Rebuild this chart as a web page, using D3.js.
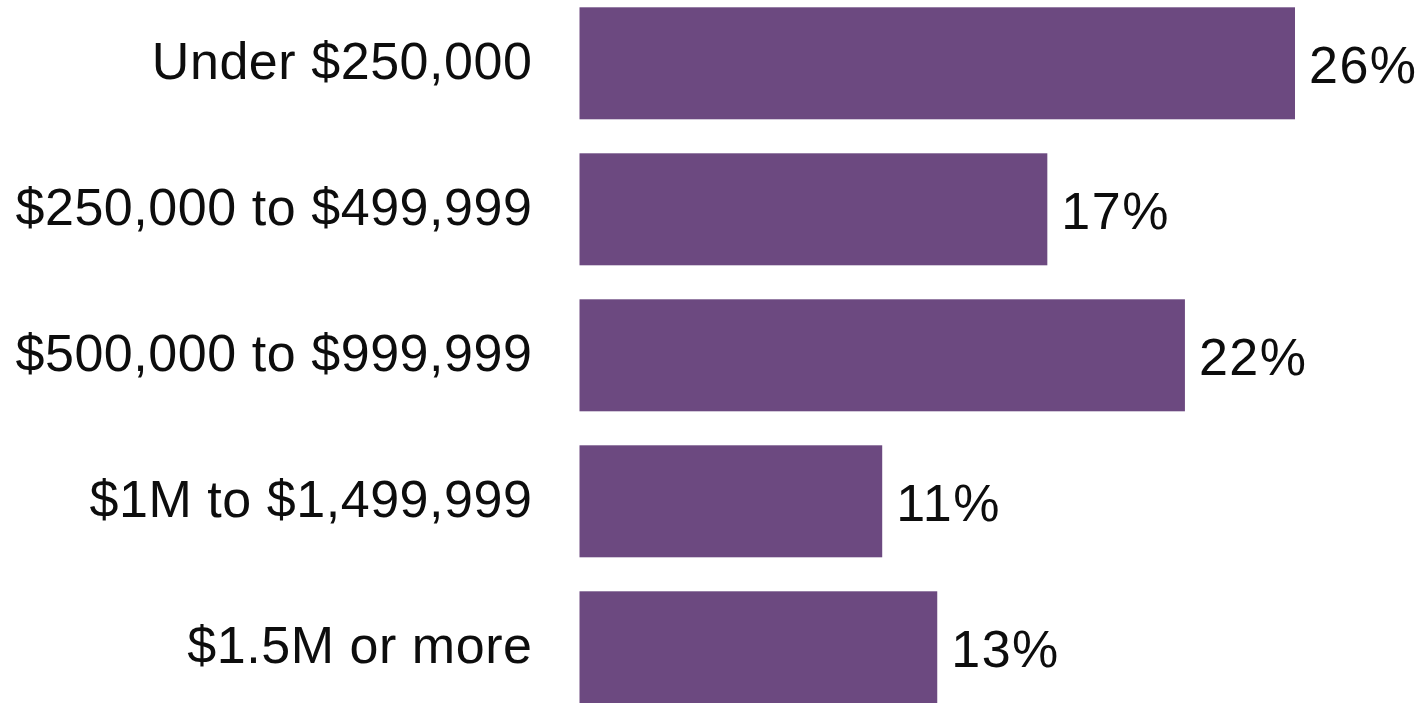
<!DOCTYPE html>
<html>
<head>
<meta charset="utf-8">
<script src="https://cdn.jsdelivr.net/npm/d3@7"></script>
<style>
  html, body { margin: 0; padding: 0; background: #fff; overflow: hidden; }
  svg { display: block; }
  text { font-family: "Liberation Sans", Arial, Helvetica, sans-serif; fill: #0d0d0d; }
</style>
</head>
<body>
<script>
// Share of homes by price range
const categories = [
  "Under $250,000",
  "$250,000 to $499,999",
  "$500,000 to $999,999",
  "$1M to $1,499,999",
  "$1.5M or more"
];
const shares = [26, 17, 22, 11, 13];

const width = 1422, height = 703;
const barColor = "#6c4980";

const svg = d3.select("body").append("svg")
  .attr("width", width)
  .attr("height", height);

const x = d3.scaleLinear().domain([0, 26]).range([579.5, 1295]);
const y = d3.scaleBand()
  .domain(categories)
  .range([-9.7, 720.3])
  .paddingInner(34 / 146)
  .paddingOuter(17 / 146);

const rows = svg.selectAll("g.row")
  .data(categories.map((c, i) => ({ cat: c, val: shares[i] })))
  .join("g")
  .attr("class", "row");

rows.append("rect")
  .attr("x", x(0))
  .attr("y", d => y(d.cat))
  .attr("width", d => x(d.val) - x(0))
  .attr("height", y.bandwidth())
  .attr("fill", barColor);

// category labels, right-aligned left of the bars
rows.append("text")
  .attr("x", 532.5)
  .attr("y", d => y(d.cat) + y.bandwidth() / 2 + 15.5)
  .attr("text-anchor", "end")
  .style("font-size", "52px")
  .style("letter-spacing", "0.55px")
  .text(d => d.cat);

// value labels at the bar ends
rows.append("text")
  .attr("x", d => x(d.val) + 14)
  .attr("y", d => y(d.cat) + y.bandwidth() / 2 + 19.5)
  .style("font-size", "52px")
  .style("letter-spacing", "1.5px")
  .text(d => d.val + "%");
</script>
</body>
</html>
